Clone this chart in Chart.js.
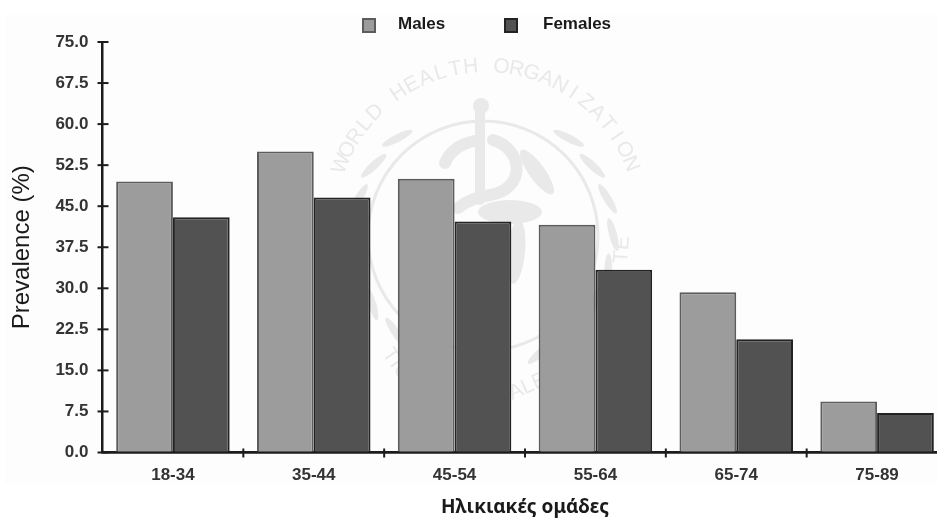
<!DOCTYPE html>
<html>
<head>
<meta charset="utf-8">
<title>Prevalence</title>
<script src="https://cdn.jsdelivr.net/npm/chart.js@4/dist/chart.umd.js"></script>
<style>
html, body { margin: 0; padding: 0; background: #fff; overflow: hidden; }
#wrap { width: 937px; height: 518px; overflow: hidden; }
#wrap canvas { filter: blur(0.45px); }
</style>
</head>
<body>
<div id="wrap"><canvas id="myChart" width="950" height="518" style="width:950px;height:518px"></canvas></div>
<script>
const ageGroups = ["18-34", "35-44", "45-54", "55-64", "65-74", "75-89"];
const males = [49.5, 55.0, 50.0, 41.6, 29.3, 9.3];
const females = [43.0, 46.6, 42.2, 33.4, 20.7, 7.2];
const yTicks = [0, 7.5, 15, 22.5, 30, 37.5, 45, 52.5, 60, 67.5, 75];

const maleFill = "#9c9c9c", maleEdge = "#5c5c5c";
const femaleFill = "#525252", femaleEdge = "#232323";
const axisColor = "#1c1c1c";
const tickFont = { family: "'Liberation Sans'", size: 17, weight: "bold" };

// faint WHO emblem behind the bars
function drawWatermark(ctx) {
    const cx = 486, cy = 222, r = 150;
    ctx.save();
    ctx.fillStyle = "#e9e9e9";
    ctx.strokeStyle = "#e9e9e9";
    ctx.font = "21px 'Liberation Sans'";
    ctx.textAlign = "center";
    ctx.textBaseline = "alphabetic";

    const letters = "WORLD HEALTH ORGANIZATION";
    const step = 0.099;
    for (let i = 0; i < letters.length; i++) {
        const a = (i - (letters.length - 1) / 2) * step;
        ctx.save();
        ctx.translate(cx + r * Math.sin(a), cy - r * Math.cos(a));
        ctx.rotate(a);
        ctx.fillText(letters[i], 0, 0);
        ctx.restore();
    }
    [["TIO", 392, 368, 0.95], ["ALE", 530, 392, -0.42], ["TE", 628, 250, -1.5]].forEach(function (t) {
        ctx.save();
        ctx.translate(t[1], t[2]);
        ctx.rotate(t[3]);
        ctx.fillText(t[0], 0, 0);
        ctx.restore();
    });

    // globe ring
    ctx.lineWidth = 3;
    ctx.beginPath();
    ctx.arc(483, 236, 115, 0, Math.PI * 2);
    ctx.stroke();

    // rod
    ctx.lineWidth = 10;
    ctx.lineCap = "round";
    ctx.beginPath();
    ctx.moveTo(480, 106);
    ctx.lineTo(480, 200);
    ctx.stroke();
    ctx.beginPath();
    ctx.arc(481, 106, 8, 0, Math.PI * 2);
    ctx.fill();

    // snake
    ctx.lineWidth = 12;
    ctx.beginPath();
    ctx.moveTo(445, 163);
    ctx.quadraticCurveTo(452, 146, 474, 141);
    ctx.stroke();
    ctx.beginPath();
    ctx.moveTo(493, 140);
    ctx.bezierCurveTo(525, 150, 525, 190, 490, 195);
    ctx.quadraticCurveTo(470, 198, 458, 208);
    ctx.stroke();
    ctx.beginPath();
    ctx.ellipse(537, 172, 27, 8, 0.95, 0, Math.PI * 2);
    ctx.fill();

    // continents
    ctx.beginPath();
    ctx.ellipse(510, 212, 32, 12, 0, 0, Math.PI * 2);
    ctx.ellipse(516, 252, 9, 32, 0.1, 0, Math.PI * 2);
    ctx.fill();

    // laurel leaves, mirrored left and right
    [-1, 1].forEach(function (side) {
        for (let i = 0; i < 8; i++) {
            const a = 0.72 + i * 0.28;
            const x = 483 + side * 130 * Math.sin(a);
            const y = 236 - 130 * Math.cos(a);
            ctx.beginPath();
            ctx.ellipse(x, y, 17, 4, side * (a - 0.25), 0, Math.PI * 2);
            ctx.fill();
        }
    });
    ctx.restore();
}

const extras = {
    id: "extras",
    beforeDraw: function (chart) {
        const ctx = chart.ctx;
        ctx.save();
        ctx.fillStyle = "#fdfdfd";
        ctx.fillRect(5, 15, 945, 470);
        ctx.restore();
    },
    beforeDatasetsDraw: function (chart) {
        drawWatermark(chart.ctx);
    },
    afterDraw: function (chart) {
        const ctx = chart.ctx;
        const xs = chart.scales.x, ys = chart.scales.y;
        ctx.save();
        ctx.strokeStyle = axisColor;
        ctx.lineWidth = 2;

        // y ticks cross the axis
        ys.ticks.forEach(function (t) {
            const y = ys.getPixelForValue(t.value);
            ctx.beginPath();
            ctx.moveTo(xs.left - 5, y);
            ctx.lineTo(xs.left + 6, y);
            ctx.stroke();
        });

        // x axis runs over the foot of the bars
        ctx.beginPath();
        ctx.moveTo(xs.left, ys.bottom);
        ctx.lineTo(xs.right, ys.bottom);
        ctx.stroke();

        // x ticks sit between the groups
        const half = (xs.getPixelForTick(1) - xs.getPixelForTick(0)) / 2;
        for (let i = 0; i < ageGroups.length - 1; i++) {
            const x = xs.getPixelForTick(i) + half;
            ctx.beginPath();
            ctx.moveTo(x, ys.bottom - 4);
            ctx.lineTo(x, ys.bottom + 5);
            ctx.stroke();
        }

        // legend
        const pos = [[362, 398], [504, 543]];
        ctx.font = "bold 17px 'Liberation Sans'";
        ctx.textBaseline = "middle";
        ctx.textAlign = "left";
        chart.data.datasets.forEach(function (ds, i) {
            ctx.fillStyle = ds.backgroundColor;
            ctx.strokeStyle = ds.borderColor;
            ctx.lineWidth = 2;
            ctx.fillRect(pos[i][0] + 1, 19, 12, 13);
            ctx.strokeRect(pos[i][0] + 1, 19, 12, 13);
            ctx.fillStyle = "#1a1a1a";
            ctx.fillText(ds.label, pos[i][1], 24.5);
        });
        ctx.restore();
    }
};

new Chart("myChart", {
    type: "bar",
    data: {
        labels: ageGroups,
        datasets: [
            { label: "Males", data: males, backgroundColor: maleFill, borderColor: maleEdge, borderWidth: 2 },
            { label: "Females", data: females, backgroundColor: femaleFill, borderColor: femaleEdge, borderWidth: 2 }
        ]
    },
    plugins: [extras],
    options: {
        responsive: false,
        animation: false,
        layout: { padding: { top: 42, right: 2.5, left: 0, bottom: 0 } },
        categoryPercentage: 0.806,
        barPercentage: 1,
        plugins: { legend: { display: false }, tooltip: { enabled: false } },
        scales: {
            x: {
                grid: { display: false, drawTicks: false },
                border: { color: axisColor, width: 2.5 },
                ticks: { color: "#333", font: tickFont, padding: 13, maxRotation: 0 },
                title: {
                    display: true,
                    text: "Ηλικιακές ομάδες",
                    color: "#1a1a1a",
                    font: { family: "'Noto Sans'", size: 19, weight: "bold" },
                    padding: { top: 0, bottom: -1 }
                },
                afterFit: function (s) { s.height = 65.5; }
            },
            y: {
                min: 0,
                max: 75,
                afterBuildTicks: function (s) { s.ticks = yTicks.map(function (v) { return { value: v }; }); },
                grid: { display: false, drawTicks: false },
                border: { color: axisColor, width: 2.5 },
                ticks: {
                    color: "#333",
                    font: tickFont,
                    padding: 14,
                    callback: function (v) { return Number(v).toFixed(1); }
                },
                title: {
                    display: true,
                    text: "Prevalence (%)",
                    color: "#1a1a1a",
                    font: { family: "'Liberation Sans'", size: 24 },
                    padding: { top: 8, bottom: 0 }
                },
                afterFit: function (s) { s.width = 102.5; }
            }
        }
    }
});
</script>
</body>
</html>
